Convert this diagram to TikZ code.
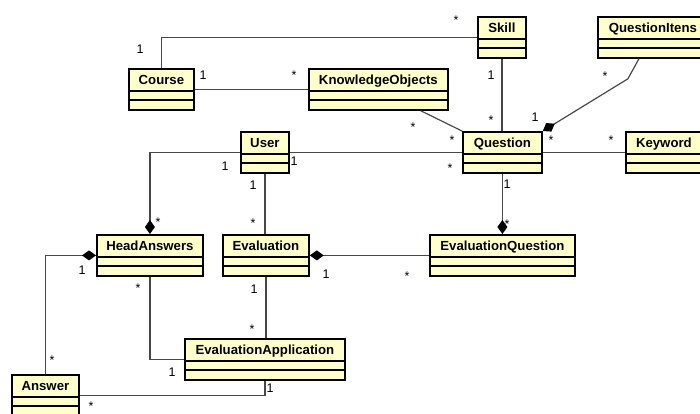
\documentclass[tikz,border=0pt]{standalone}
\usepackage{fontspec}
\setmainfont{Liberation Sans}
\usetikzlibrary{arrows.meta}
\definecolor{clsfill}{HTML}{FFFFCC}
\definecolor{assoc}{HTML}{484848}
\begin{document}
\begin{tikzpicture}[x=1pt,y=-1pt,
    cls/.style={draw,line width=1.8pt,fill=clsfill,anchor=north west,inner sep=0pt,
      text height=16pt,text depth=25pt,font=\fontsize{13.2}{15}\selectfont\bfseries,
      path picture={\draw[line width=1.2pt]
        ([yshift=-22pt]path picture bounding box.north west) -- ([yshift=-22pt]path picture bounding box.north east)
        ([yshift=-31pt]path picture bounding box.north west) -- ([yshift=-31pt]path picture bounding box.north east);}},
    link/.style={draw=assoc,line width=1.2pt},
    comp/.style={link,-{Diamond[length=14pt,width=10pt,black]}},
    compstart/.style={link,{Diamond[length=14pt,width=10pt,black]}-},
    mult/.style={inner sep=0pt,text height=0pt,text depth=0pt,font=\fontsize{12.5}{14}\selectfont},
    multstar/.style={inner sep=0pt,font=\fontsize{12.5}{14}\selectfont}]
  \useasboundingbox (0,0) rectangle (700,413);
  % classes
  \node[cls,minimum width=48] (Skill) at (477,16) {Skill};
  \node[cls,minimum width=110] (QuestionItens) at (597,16) {QuestionItens};
  \node[cls,minimum width=65] (Course) at (128,68) {Course};
  \node[cls,minimum width=139] (KnowledgeObjects) at (308,68) {KnowledgeObjects};
  \node[cls,minimum width=48] (User) at (240,131) {User};
  \node[cls,minimum width=79] (Question) at (462,131) {Question};
  \node[cls,minimum width=76] (Keyword) at (625,131) {Keyword};
  \node[cls,minimum width=106] (HeadAnswers) at (96,234) {HeadAnswers};
  \node[cls,minimum width=86] (Evaluation) at (222,234) {Evaluation};
  \node[cls,minimum width=145] (EvaluationQuestion) at (429,234) {EvaluationQuestion};
  \node[cls,minimum width=160] (EvaluationApplication) at (184,338) {EvaluationApplication};
  \node[cls,minimum width=67] (Answer) at (11,374) {Answer};
  % associations
  \draw[link] (Course.north) |- (Skill.west);
  \draw[link] (Course.east) -- (KnowledgeObjects.west);
  \draw[link] ([xshift=42.5pt]KnowledgeObjects.south) -- (Question.north west);
  \draw[link] (Skill.south) -- (Skill.south |- Question.north);
  \draw[comp] ([xshift=-14pt]QuestionItens.south) -- ++(-11,20) -- (Question.north east);
  \draw[link] (Question.east) -- (Keyword.west);
  \draw[link] (User.east) -- (Question.west);
  \draw[comp] (User.west) -| (HeadAnswers.north);
  \draw[link] (User.south) -- (User.south |- Evaluation.north);
  \draw[comp] (Question.south) -- (EvaluationQuestion.north);
  \draw[compstart] (Evaluation.east) -- (EvaluationQuestion.west);
  \draw[compstart] (HeadAnswers.west) -| (Answer.north);
  \draw[link] (HeadAnswers.south) |- (EvaluationApplication.west);
  \draw[link] (Evaluation.south) -- (Evaluation.south |- EvaluationApplication.north);
  \draw[link] (Answer.east) -| (EvaluationApplication.south);
  % multiplicities
  \foreach \x/\y [count=\i] in {140/49,203/75,491/75,535/117,294/161,225/166,253/185,
      507/184,326/274,82/270,172/372,254/289,270/388}
    \node[mult,yshift=-4.5pt] (one\i) at (\x,\y) {1};
  \foreach \x/\y [count=\i] in {456/17,294/72,413/124,452/137,491/117,605/73,551/137,
      611/137,450/165,158/219,253/220,507/221,407/273,52/357,138/285,252/326,91/403}
    \node[multstar,yshift=-2.7pt] (star\i) at (\x,\y) {*};
\end{tikzpicture}
\end{document}
